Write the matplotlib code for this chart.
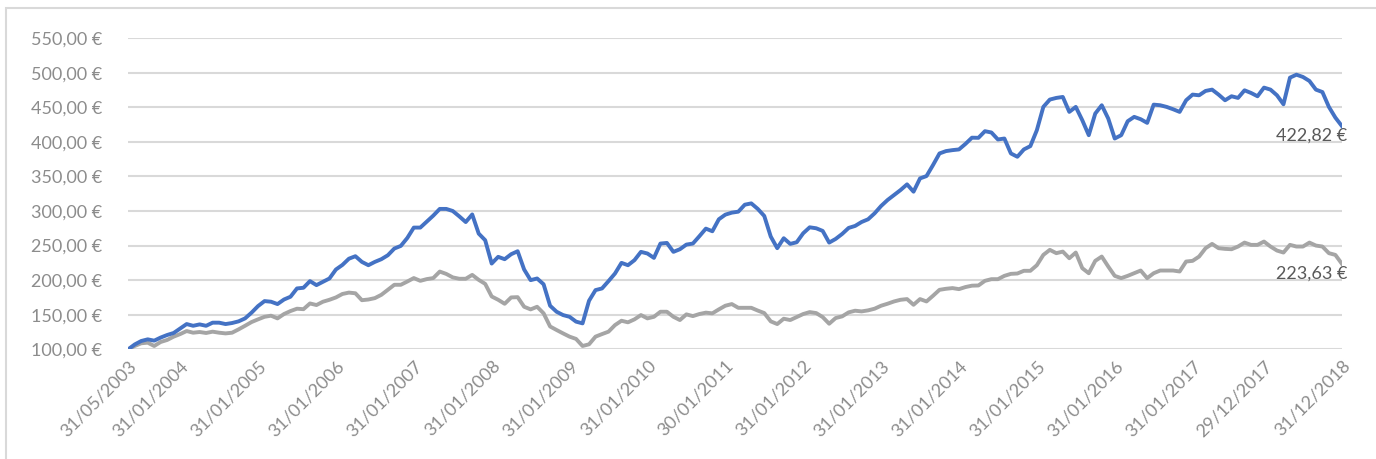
import numpy as np
import matplotlib
matplotlib.use('Agg')
import matplotlib.pyplot as plt
from matplotlib.patches import Rectangle

plt.rcParams['font.family'] = ['Lato', 'DejaVu Sans']

# monthly index values (start = 100)
blue_values = [
    100, 107, 112, 114.4, 112.5, 117, 120.7, 123.6, 130, 136.5,
    134, 136, 134, 138.5, 138.5, 136.5, 138, 140.4, 144.7, 153,
    162.5, 169.7, 168.8, 165.4, 172, 176, 188, 189, 198.6, 192.8,
    197.6, 202.4, 215.4, 222, 231, 234.6, 226.4, 221.6, 226.4, 230.3,
    236, 245.7, 249.5, 261, 276, 276, 284.6, 293.3, 303, 303,
    300, 292.3, 284, 295, 267.3, 257.7, 224, 233.7, 230.3, 237.5,
    241.8, 215.4, 200, 202.4, 194, 163, 154.3, 149.5, 147, 140,
    137.5, 170.2, 185.6, 188, 198.6, 209.6, 225, 221.6, 228.9, 240.9,
    238.5, 232.2, 252.9, 253.8, 240.9, 244.7, 251.4, 252.9, 263.5, 274.5,
    270.7, 288, 294.7, 297.6, 299, 309.1, 311, 303, 292.8, 263,
    246.2, 260.6, 252.4, 254.8, 267.8, 276.4, 275, 271.2, 254.3, 259.6,
    266.8, 275.5, 278.4, 284.1, 288, 296.6, 307.2, 315.9, 323.1, 330.3,
    338.5, 327.9, 347.1, 350.5, 366.4, 383.2, 386.6, 388, 389, 397,
    406, 405.8, 415.4, 413.5, 403.4, 404.8, 383.2, 378.4, 389, 393.8,
    416.8, 450.5, 461.1, 463.5, 464.9, 443.3, 450.5, 431.3, 409.6, 440.9,
    452.9, 433.7, 404.8, 409.6, 429.8, 436.1, 432.7, 427.4, 453.8, 452.9,
    450.5, 447.1, 443.3, 460.1, 468.3, 467.3, 473.6, 475.5, 468.3, 460.1,
    465.9, 463.5, 474.5, 470.7, 465.9, 478.4, 475.5, 467.3, 454.3, 492.8,
    497.1, 493.8, 488, 475.5, 472, 450.5, 435, 422.82,
]

gray_values = [
    100, 104.8, 108.7, 109.6, 104.8, 110.6, 113.5, 118.3, 122, 126.4,
    124, 125, 123.6, 125.5, 124, 123, 124, 128.8, 134, 139.4,
    143.3, 147, 148.6, 144.7, 151, 155.3, 158.7, 158, 166.3, 164,
    168.8, 171.6, 175, 180, 182, 181, 171, 172, 174, 178.8,
    186, 193.3, 193.3, 198, 203, 199, 201.5, 203, 212.4, 209,
    204, 202, 202, 207.6, 200.4, 194.6, 176.4, 171.6, 165.8, 175,
    175.4, 161.5, 157.7, 161.5, 152, 133, 127.9, 123, 118.3, 115,
    104.8, 107.2, 118.3, 122, 125.5, 135, 141.3, 139, 143.3, 149.5,
    144.7, 147, 154.3, 154.3, 147, 142.3, 150.5, 148, 151, 153,
    152, 157.7, 163, 165.4, 160, 160, 160, 156, 152.4, 140.4,
    136.5, 144.2, 142.3, 146.6, 151, 153.8, 152.4, 146.6, 137, 145.2,
    147.6, 153.4, 155.8, 154.8, 156.3, 158.7, 163, 165.9, 169.2, 171.6,
    172.6, 164.4, 172.6, 169.2, 177.4, 186, 187.5, 188.5, 187, 190,
    192, 192.3, 199, 201.4, 201.4, 206.2, 209.1, 209.6, 213.5, 213.5,
    221.6, 236.5, 243.8, 239, 241.3, 231.7, 239.9, 217.3, 210, 227.9,
    234.1, 219.7, 206.2, 202.9, 206.2, 210, 213.9, 202.9, 210, 213.9,
    213.9, 213.9, 212.5, 226.9, 227.9, 234.1, 246.2, 252.4, 246.2, 245.2,
    244.7, 248.6, 254.3, 251, 251, 255.8, 248.6, 242.8, 239.9, 251,
    248.6, 248.6, 254.3, 250, 248.6, 239, 236.5, 223.63,
]

tick_index = [0, 8, 20, 32, 44, 56, 68, 80, 92, 104, 116, 128, 140, 152, 164, 175, 187]
tick_labels = ['31/05/2003', '31/01/2004', '31/01/2005', '31/01/2006', '31/01/2007',
               '31/01/2008', '31/01/2009', '31/01/2010', '30/01/2011', '31/01/2012',
               '31/01/2013', '31/01/2014', '31/01/2015', '31/01/2016', '31/01/2017',
               '29/12/2017', '31/12/2018']


def euro(v):
    return f'{v:,.2f}'.replace(',', ' ').replace('.', ',') + ' €'


x = np.arange(len(blue_values))

fig = plt.figure(figsize=(13.76, 4.59), dpi=100)
ax = fig.add_axes([0.0932, 0.239, 0.882, 0.678])

# chart border (only top and left visible in the screenshot)
fig.patches.append(Rectangle((6 / 1376, -0.1), 1.2, 1.1 - 8 / 459,
                             transform=fig.transFigure, fill=False,
                             edgecolor='#d9d9d9', linewidth=1.5))

ax.plot(x, gray_values, color='#a5a5a5', linewidth=2.8, solid_joinstyle='round', zorder=3)
ax.plot(x, blue_values, color='#4472c4', linewidth=2.8, solid_joinstyle='round', zorder=4)

ax.set_xlim(0, len(x) - 1)
ax.set_ylim(100, 550)
ax.set_yticks(np.arange(100, 551, 50))
ax.set_yticklabels([euro(v) for v in np.arange(100, 551, 50)])
ax.set_xticks(tick_index)
ax.set_xticklabels(tick_labels, rotation=45, ha='right', rotation_mode='anchor')

ax.grid(axis='y', color='#d9d9d9', linewidth=1.5, zorder=0)
ax.set_axisbelow(True)
for s in ax.spines.values():
    s.set_visible(False)
ax.tick_params(axis='both', length=0, colors='#8c8c8c', labelsize=13)
ax.tick_params(axis='y', pad=19)
ax.tick_params(axis='x', pad=6)

ax.annotate(euro(blue_values[-1]), (x[-1], blue_values[-1]), xytext=(4, -1),
            textcoords='offset points', ha='right', va='top',
            color='#595959', fontsize=13, annotation_clip=False)
ax.annotate(euro(gray_values[-1]), (x[-1], gray_values[-1]), xytext=(4, -1),
            textcoords='offset points', ha='right', va='top',
            color='#595959', fontsize=13, annotation_clip=False)

fig.savefig('out.png', dpi=100)
